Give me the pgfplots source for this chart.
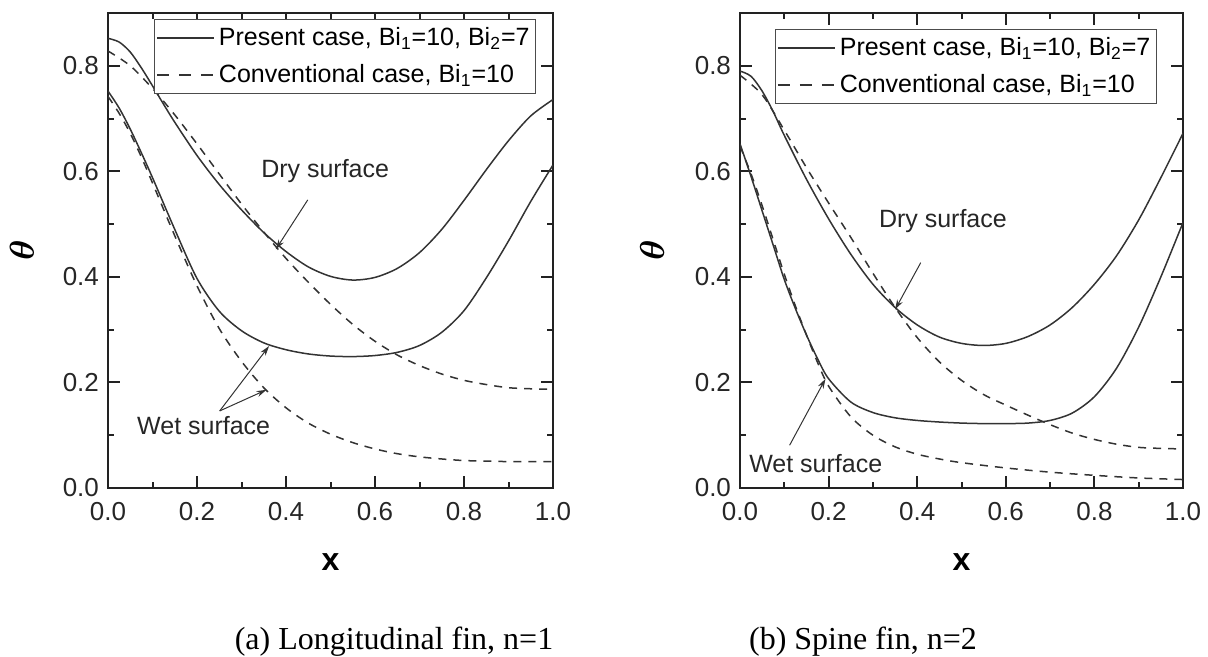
\documentclass[border=0pt]{standalone}
\usepackage{fontspec}
\setmainfont{Liberation Sans}
\newfontfamily\capfont{Liberation Serif}
\usepackage{amsmath,bm}
\usepackage{pgfplots}
\pgfplotsset{compat=1.18}
\usetikzlibrary{arrows.meta}

\definecolor{curve}{HTML}{333333}
\definecolor{axisc}{HTML}{222222}

\pgfplotsset{
  finstyle/.style={
    scale only axis, width=222.5pt, height=237.5pt,
    xmin=0, xmax=1, ymin=0, ymax=0.9,
    xtick={0,0.2,0.4,0.6,0.8,1.0}, ytick={0,0.2,0.4,0.6,0.8},
    minor xtick={0.1,0.3,0.5,0.7,0.9}, minor ytick={0.1,0.3,0.5,0.7},
    tick align=inside, tick pos=both, ticklabel pos=left,
    major tick length=6pt, minor tick length=3pt,
    every tick/.style={line width=1pt, axisc},
    axis line style={line width=1pt, axisc},
    tick label style={font=\fontsize{13}{13}\selectfont, text=black!85},
    xticklabel style={yshift=-3.5pt},
    yticklabel style={xshift=-1pt},
    /pgf/number format/.cd, fixed, fixed zerofill, precision=1, assume math mode=true,
    /pgfplots/.cd,
    xlabel={\textbf{x}},
    xlabel style={at={(axis description cs:0.5,-0.1558)}, anchor=center, font=\fontsize{16}{16}\selectfont},
    ylabel={$\boldsymbol{\theta}$},
    ylabel style={at={(axis description cs:-0.1933,0.5)}, anchor=center, font=\fontsize{19}{19}\selectfont},
    legend style={draw=black!70, line width=0.5pt, font=\fontsize{12.5}{14}\selectfont,
      inner xsep=1pt, inner ysep=2pt, row sep=4pt, cells={anchor=west}},
    legend image code/.code={\draw[#1, line width=0.9pt] (0pt,0pt) -- (28.5pt,0pt);},
    solidc/.style={curve, line width=0.75pt, smooth},
    dashc/.style={curve, line width=0.75pt, smooth, dash pattern=on 4pt off 3.5pt,
      legend image post style={dash pattern=on 6pt off 5pt}},
  }
}
\tikzset{ann/.style={font=\fontsize{12.5}{14}\selectfont, text=black!85},
  arr/.style={-{Stealth[length=5pt,width=3pt]}, line width=0.5pt, curve}}

\begin{document}
\begin{tikzpicture}
\useasboundingbox (0,0) rectangle (604pt,328.5pt);

\begin{axis}[finstyle, at={(54pt,84.5pt)}, anchor=south west,
  legend style={at={(axis description cs:0.9618,0.9874)}, anchor=north east}]
\addplot[solidc] coordinates {(0,0.852) (0.025,0.845) (0.05,0.826) (0.075,0.796) (0.1,0.762) (0.125,0.727) (0.15,0.693) (0.2,0.63) (0.25,0.575) (0.3,0.527) (0.35,0.484) (0.4,0.448) (0.45,0.419) (0.5,0.401) (0.55,0.394) (0.6,0.399) (0.65,0.416) (0.7,0.446) (0.75,0.49) (0.8,0.545) (0.85,0.603) (0.9,0.658) (0.95,0.705) (1.0,0.736)};
\addlegendentry{Present case, Bi\textsubscript{1}=10, Bi\textsubscript{2}=7}
\addplot[dashc] coordinates {(0,0.828) (0.05,0.80) (0.1,0.757) (0.15,0.707) (0.2,0.652) (0.25,0.595) (0.3,0.538) (0.35,0.485) (0.4,0.435) (0.45,0.39) (0.5,0.348) (0.55,0.31) (0.6,0.278) (0.65,0.252) (0.7,0.232) (0.75,0.216) (0.8,0.204) (0.85,0.196) (0.9,0.19) (0.95,0.188) (1.0,0.187)};
\addlegendentry{Conventional case, Bi\textsubscript{1}=10}
\addplot[solidc, forget plot] coordinates {(0,0.752) (0.025,0.72) (0.05,0.68) (0.075,0.635) (0.1,0.588) (0.15,0.49) (0.2,0.397) (0.25,0.335) (0.3,0.298) (0.35,0.275) (0.4,0.262) (0.45,0.254) (0.5,0.25) (0.55,0.249) (0.6,0.251) (0.65,0.257) (0.7,0.27) (0.75,0.295) (0.8,0.336) (0.85,0.398) (0.9,0.468) (0.95,0.543) (1.0,0.612)};
\addplot[dashc, forget plot] coordinates {(0,0.742) (0.025,0.71) (0.05,0.672) (0.075,0.627) (0.1,0.578) (0.15,0.478) (0.2,0.383) (0.25,0.302) (0.3,0.24) (0.35,0.19) (0.4,0.152) (0.45,0.123) (0.5,0.102) (0.55,0.086) (0.6,0.074) (0.65,0.065) (0.7,0.059) (0.75,0.055) (0.8,0.052) (0.85,0.051) (0.9,0.05) (0.95,0.05) (1.0,0.05)};
\node[ann] at (axis cs:0.488,0.60) {Dry surface};
\draw[arr] (axis cs:0.449,0.546) -- (axis cs:0.377,0.452);
\node[ann] at (axis cs:0.215,0.119) {Wet surface};
\draw[arr] (axis cs:0.251,0.146) -- (axis cs:0.362,0.269);
\draw[arr] (axis cs:0.251,0.146) -- (axis cs:0.356,0.186);
\end{axis}

\begin{axis}[finstyle, width=221.5pt, at={(370pt,84.5pt)}, anchor=south west,
  ylabel style={at={(axis description cs:-0.1986,0.5)}},
  legend style={at={(axis description cs:0.941,0.966)}, anchor=north east}]
\addplot[solidc] coordinates {(0,0.79) (0.025,0.78) (0.05,0.752) (0.075,0.713) (0.1,0.668) (0.15,0.585) (0.2,0.51) (0.25,0.443) (0.3,0.386) (0.35,0.342) (0.4,0.309) (0.45,0.286) (0.5,0.274) (0.55,0.27) (0.6,0.274) (0.65,0.287) (0.7,0.309) (0.75,0.342) (0.8,0.386) (0.85,0.44) (0.9,0.508) (0.95,0.588) (1.0,0.672)};
\addlegendentry{Present case, Bi\textsubscript{1}=10, Bi\textsubscript{2}=7}
\addplot[dashc] coordinates {(0,0.782) (0.05,0.745) (0.1,0.678) (0.15,0.607) (0.2,0.54) (0.25,0.475) (0.3,0.407) (0.35,0.342) (0.4,0.285) (0.45,0.239) (0.5,0.204) (0.55,0.177) (0.6,0.157) (0.65,0.138) (0.7,0.12) (0.75,0.104) (0.8,0.092) (0.85,0.083) (0.9,0.077) (0.95,0.075) (1.0,0.074)};
\addlegendentry{Conventional case, Bi\textsubscript{1}=10}
\addplot[solidc, forget plot] coordinates {(0,0.652) (0.025,0.59) (0.05,0.525) (0.075,0.46) (0.1,0.395) (0.125,0.34) (0.15,0.29) (0.175,0.245) (0.2,0.207) (0.25,0.163) (0.3,0.143) (0.35,0.133) (0.4,0.128) (0.45,0.125) (0.5,0.123) (0.55,0.122) (0.6,0.122) (0.65,0.123) (0.7,0.128) (0.75,0.142) (0.8,0.173) (0.85,0.227) (0.9,0.305) (0.95,0.4) (1.0,0.503)};
\addplot[dashc, forget plot] coordinates {(0,0.648) (0.025,0.595) (0.05,0.535) (0.075,0.47) (0.1,0.405) (0.125,0.345) (0.15,0.29) (0.175,0.238) (0.2,0.193) (0.25,0.135) (0.3,0.1) (0.35,0.078) (0.4,0.064) (0.45,0.055) (0.5,0.048) (0.6,0.038) (0.7,0.03) (0.8,0.024) (0.9,0.019) (1.0,0.016)};
\node[ann] at (axis cs:0.458,0.505) {Dry surface};
\draw[arr] (axis cs:0.408,0.427) -- (axis cs:0.35,0.338);
\node[ann] at (axis cs:0.171,0.047) {Wet surface};
\draw[arr] (axis cs:0.112,0.081) -- (axis cs:0.193,0.207);
\end{axis}

\node[anchor=base, font=\capfont\fontsize{16}{16}\selectfont] at (197pt,3.6pt) {(a) Longitudinal fin, n=1};
\node[anchor=base, font=\capfont\fontsize{16}{16}\selectfont] at (431.5pt,3.6pt) {(b) Spine fin, n=2};
\end{tikzpicture}
\end{document}
